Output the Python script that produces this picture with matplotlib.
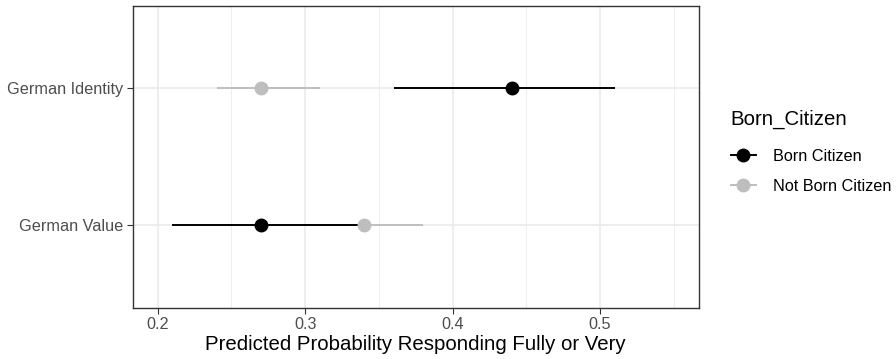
import numpy as np
import matplotlib
matplotlib.use('Agg')
import matplotlib.pyplot as plt

plt.rcParams['font.family'] = ['Liberation Sans', 'DejaVu Sans']

# data
categories = ['German Value', 'German Identity']
groups = ['Born Citizen', 'Not Born Citizen']
colors = ['#000000', '#BEBEBE']
estimates = {'Born Citizen': [0.27, 0.44], 'Not Born Citizen': [0.34, 0.27]}
lower = {'Born Citizen': [0.21, 0.36], 'Not Born Citizen': [0.30, 0.24]}
upper = {'Born Citizen': [0.34, 0.51], 'Not Born Citizen': [0.38, 0.31]}

x_major = [0.2, 0.3, 0.4, 0.5]
x_minor = [0.25, 0.35, 0.45, 0.55]

fig = plt.figure(figsize=(8.96, 3.59), dpi=100)
ax = fig.add_axes([0.148, 0.143, 0.632, 0.840])

y = np.arange(len(categories))
# intervals first (grey under black), then points on top
for g, c in reversed(list(zip(groups, colors))):
    ax.hlines(y, lower[g], upper[g], color=c, lw=1.4, zorder=3)
for g, c in zip(groups, colors):
    ax.plot(estimates[g], y, 'o', color=c, ms=9, zorder=4)

handles = [plt.Line2D([], [], color=c, lw=1.4, marker='o', ms=9) for c in colors]

ax.set_xlim(0.183, 0.567)
ax.set_ylim(-0.6, 1.6)
ax.set_yticks(y)
ax.set_yticklabels(categories)
ax.set_xticks(x_major)
ax.set_xticklabels([f'{v:g}' for v in x_major])
ax.set_xticks(x_minor, minor=True)
ax.tick_params(which='minor', length=0)
ax.tick_params(which='major', length=4, width=0.8, color='#333333',
               labelcolor='#4D4D4D', labelsize=11.7, pad=3)

ax.grid(which='major', color='#EBEBEB', lw=1.2, zorder=0)
ax.grid(which='minor', axis='x', color='#EBEBEB', lw=0.6, zorder=0)
ax.set_axisbelow(True)
for s in ax.spines.values():
    s.set_color('#333333')
    s.set_linewidth(1.0)

ax.set_xlabel('Predicted Probability Responding Fully or Very', fontsize=14.7,
              color='black', labelpad=2)

leg = ax.legend(handles, groups, title='Born_Citizen', loc='upper left',
                bbox_to_anchor=(0.8155, 0.694), bbox_transform=fig.transFigure,
                frameon=False, fontsize=11.7, title_fontsize=14.7,
                handlelength=1.54, handletextpad=1.05, labelspacing=0.95,
                alignment='left', borderaxespad=0, borderpad=0)
leg._legend_box.sep = 14

fig.savefig('out.png', dpi=100)
